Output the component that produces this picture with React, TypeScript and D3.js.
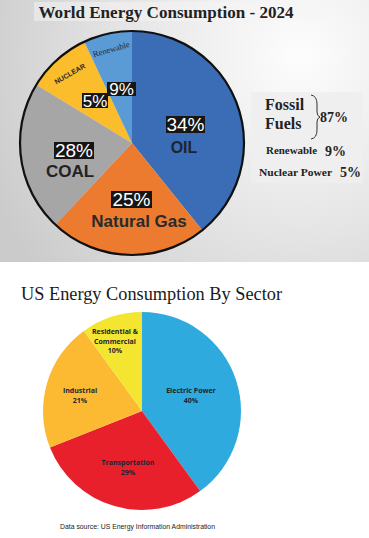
import React from 'react';
import * as d3 from 'd3';

// World energy consumption (top). Slice sizes are read from the drawn angles,
// the printed percentages are kept separately as they appear on the chart.
const worldSources = ['Oil', 'Natural Gas', 'Coal', 'Nuclear', 'Renewable'];
const worldShares = [39.2, 22.8, 21.7, 9.3, 7.0];
const worldLabels = ['34%', '25%', '28%', '5%', '9%'];
const worldColors = ['#3b6db6', '#ec7b30', '#a6a6a6', '#fbbd2c', '#5a9bd6'];

const summaryNames = ['Renewable', 'Nuclear Power'];
const summaryValues = ['9%', '5%'];
const fossilTotal = '87%';

// US energy consumption by sector (bottom)
const usSectors = ['Electric Power', 'Transportation', 'Industrial', 'Residential & Commercial'];
const usShares = [40, 29, 21, 10];
const usColors = ['#2eaadf', '#e8202c', '#fbba31', '#f4e630'];

const W = 369;
const H = 538;

function App() {
    const pie = d3.pie<number>().sort(null).value((d: number) => d);

    // top pie
    const cx1 = 132, cy1 = 143, r1 = 112;
    const arc1 = d3.arc<d3.PieArcDatum<number>>().innerRadius(0).outerRadius(r1);
    const worldArcs = pie(worldShares);

    // bottom pie
    const cx2 = 142, cy2 = 411, r2 = 99;
    const arc2 = d3.arc<d3.PieArcDatum<number>>().innerRadius(0).outerRadius(r2);
    const usArcs = pie(usShares);

    const sans = 'Arial, "Liberation Sans", sans-serif';
    const serif = '"Liberation Serif", "DejaVu Serif", serif';
    const small = '"Open Sans", "Noto Sans", sans-serif';

    // percent boxes for top pie: x, y, w, h, label index, font size
    const pctBoxes: [number, number, number, number, number, number][] = [
        [166, 116, 39, 17, 0, 19],
        [111, 191, 41, 17, 1, 19],
        [54, 142, 40, 17, 2, 19],
        [82, 93, 26, 15, 3, 17],
        [107, 82, 29, 14, 4, 17],
    ];

    return (
        <svg width={W} height={H} style={{ position: 'absolute', left: 0, top: 0 }}>
            <defs>
                <radialGradient id="bg" gradientUnits="userSpaceOnUse" cx={300} cy={55} r={340}>
                    <stop offset="0" stopColor="#fdfdfd" />
                    <stop offset="0.5" stopColor="#e6e6e6" />
                    <stop offset="1" stopColor="#cbcbcb" />
                </radialGradient>
            </defs>
            <rect x={0} y={0} width={W} height={H} fill="#ffffff" />
            <rect x={0} y={0} width={W} height={262} fill="url(#bg)" />
            <rect x={34} y={2} width={294} height={19} fill="#f6f6f6" opacity={0.5} />
            <text x={166} y={18} textAnchor="middle" fontFamily={serif} fontWeight="bold"
                fontSize={16} fill="#222" textLength={255} lengthAdjust="spacingAndGlyphs">
                World Energy Consumption - 2024
            </text>

            <g transform={`translate(${cx1},${cy1})`}>
                {worldArcs.map((a, i) => (
                    <path key={worldSources[i]} d={arc1(a) as string} fill={worldColors[i]} />
                ))}
                <circle r={r1} fill="none" stroke="#111" strokeWidth={2.2} />
            </g>

            {pctBoxes.map(([x, y, w, h, i, fs]) => (
                <g key={'pct' + i}>
                    <rect x={x} y={y} width={w} height={h} fill="#161616" />
                    <text x={x + w / 2} y={y + h / 2 + fs * 0.36} textAnchor="middle"
                        fontFamily={sans} fontSize={fs} fill="#ffffff">{worldLabels[i]}</text>
                </g>
            ))}
            <text x={184} y={153} textAnchor="middle" fontFamily={sans} fontWeight="bold"
                fontSize={16} fill="#1c2433">OIL</text>
            <text x={70} y={177} textAnchor="middle" fontFamily={sans} fontWeight="bold"
                fontSize={17} fill="#222">COAL</text>
            <text x={139} y={227} textAnchor="middle" fontFamily={sans} fontWeight="bold"
                fontSize={17} fill="#2a2a2a">Natural Gas</text>
            <text transform="translate(71,76) rotate(-30)" textAnchor="middle" fontFamily={sans}
                fontWeight="bold" fontSize={7} fill="#2a2a2a">NUCLEAR</text>
            <text transform="translate(112,52) rotate(-16)" textAnchor="middle" fontFamily={serif}
                fontSize={8.5} fill="#1e2a44">Renewable</text>

            {/* summary box */}
            <rect x={251} y={92} width={112} height={91} fill="#eeeeee" opacity={0.9} />
            <text x={265} y={110} fontFamily={serif} fontWeight="bold" fontSize={16} fill="#222">Fossil</text>
            <text x={265} y={129} fontFamily={serif} fontWeight="bold" fontSize={16} fill="#222">Fuels</text>
            <path d="M311,95 Q317,96 317,104 L317,112 Q317,116 320,117 Q317,118 317,122 L317,130 Q317,138 311,139"
                fill="none" stroke="#333" strokeWidth={1} />
            <text x={320} y={122} fontFamily={serif} fontWeight="bold" fontSize={14} fill="#222">{fossilTotal}</text>
            <text x={266} y={154} fontFamily={serif} fontWeight="bold" fontSize={10} fill="#222"
                textLength={51} lengthAdjust="spacingAndGlyphs">{summaryNames[0]}</text>
            <text x={325} y={156} fontFamily={serif} fontWeight="bold" fontSize={14} fill="#222">{summaryValues[0]}</text>
            <text x={259} y={176} fontFamily={serif} fontWeight="bold" fontSize={10} fill="#222"
                textLength={73} lengthAdjust="spacingAndGlyphs">{summaryNames[1]}</text>
            <text x={340} y={177} fontFamily={serif} fontWeight="bold" fontSize={14} fill="#222">{summaryValues[1]}</text>

            {/* bottom chart */}
            <text x={21} y={300} fontFamily={serif} fontSize={18} fill="#1a1a1a"
                textLength={261} lengthAdjust="spacingAndGlyphs">US Energy Consumption By Sector</text>
            <g transform={`translate(${cx2},${cy2})`}>
                {usArcs.map((a, i) => (
                    <path key={usSectors[i]} d={arc2(a) as string} fill={usColors[i]} />
                ))}
            </g>
            <g fontFamily={small} fontWeight="bold" fontSize={7} fill="#1d2330" textAnchor="middle">
                <text x={191} y={393}>{usSectors[0]}</text>
                <text x={191} y={403}>{usShares[0]}%</text>
                <text x={128} y={465}>{usSectors[1]}</text>
                <text x={128} y={475}>{usShares[1]}%</text>
                <text x={80} y={393}>{usSectors[2]}</text>
                <text x={80} y={403}>{usShares[2]}%</text>
                <text x={115} y={334}>Residential &amp;</text>
                <text x={115} y={343.5}>Commercial</text>
                <text x={115} y={353}>{usShares[3]}%</text>
            </g>
            <text x={60} y={529} fontFamily={sans} fontSize={7} fill="#222"
                textLength={155} lengthAdjust="spacingAndGlyphs">Data source: US Energy Information Administration</text>
        </svg>
    );
}

export default App;
